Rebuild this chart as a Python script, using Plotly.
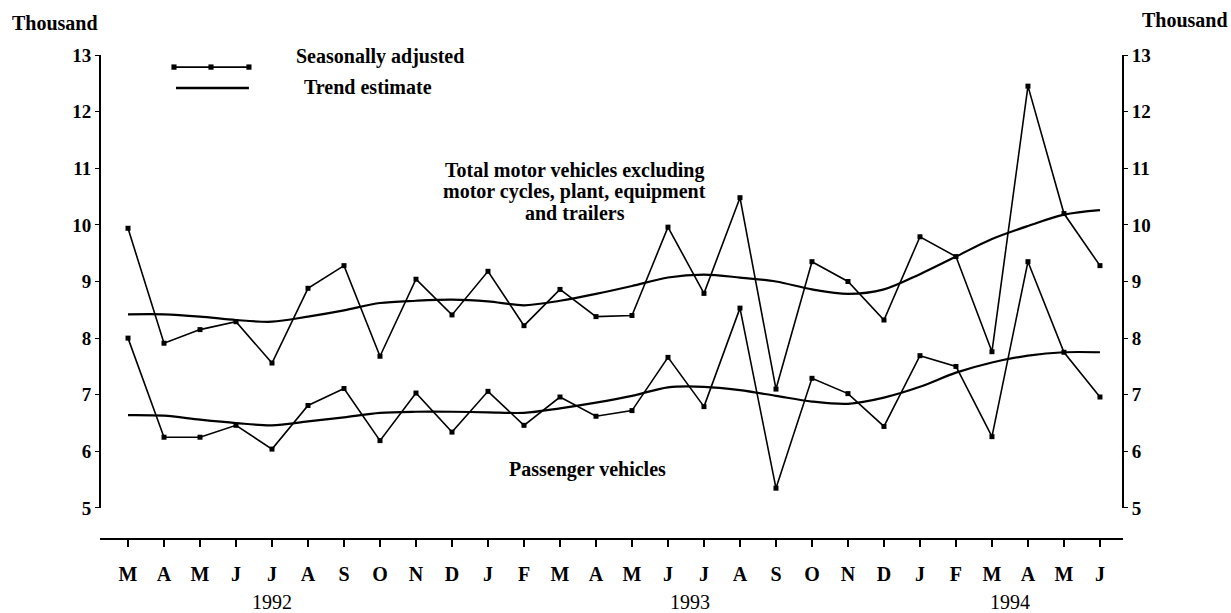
import plotly.graph_objects as go

# ---- data ----
months = ["M", "A", "M", "J", "J", "A", "S", "O", "N", "D",
          "J", "F", "M", "A", "M", "J", "J", "A", "S", "O", "N", "D",
          "J", "F", "M", "A", "M", "J"]
years = ["1992", "1993", "1994"]
year_pos = [4.0, 15.6, 24.5]

total_sa = [9.94, 7.91, 8.15, 8.29, 7.56, 8.88, 9.28, 7.68, 9.04, 8.41,
            9.18, 8.22, 8.86, 8.38, 8.40, 9.96, 8.79, 10.48, 7.10, 9.35, 9.00, 8.32,
            9.79, 9.44, 7.76, 12.45, 10.20, 9.28]
total_trend = [8.42, 8.42, 8.38, 8.32, 8.29, 8.38, 8.49, 8.62, 8.66, 8.68,
               8.65, 8.58, 8.66, 8.78, 8.92, 9.07, 9.12, 9.07, 9.00, 8.86, 8.78, 8.86,
               9.13, 9.44, 9.75, 9.98, 10.18, 10.26]
passenger_sa = [8.00, 6.25, 6.25, 6.46, 6.04, 6.81, 7.11, 6.19, 7.03, 6.34,
                7.06, 6.46, 6.96, 6.62, 6.72, 7.66, 6.79, 8.53, 5.35, 7.29, 7.02, 6.44,
                7.69, 7.50, 6.26, 9.35, 7.75, 6.96]
passenger_trend = [6.64, 6.63, 6.56, 6.50, 6.46, 6.53, 6.60, 6.68, 6.70, 6.70,
                   6.69, 6.68, 6.76, 6.86, 6.98, 7.13, 7.14, 7.08, 6.98, 6.88, 6.84, 6.95,
                   7.14, 7.39, 7.57, 7.69, 7.75, 7.75]
y_ticks = [5, 6, 7, 8, 9, 10, 11, 12, 13]

x = list(range(len(months)))
FONT = "Liberation Serif"
fb = dict(family=FONT, size=20, color="black", weight="bold")

fig = go.Figure()
for sa in (total_sa, passenger_sa):
    fig.add_trace(go.Scatter(x=x, y=sa, mode="lines+markers",
                             line=dict(color="black", width=1.6),
                             marker=dict(symbol="square", size=5, color="black"),
                             showlegend=False, hoverinfo="skip"))
for tr in (total_trend, passenger_trend):
    fig.add_trace(go.Scatter(x=x, y=tr, mode="lines",
                             line=dict(color="black", width=2.2, shape="spline", smoothing=0.9),
                             showlegend=False, hoverinfo="skip"))
# invisible trace to activate the right-hand axis
fig.add_trace(go.Scatter(x=[x[0]], y=[total_sa[0]], yaxis="y2", mode="markers",
                         marker=dict(opacity=0), showlegend=False, hoverinfo="skip"))

yr = [4.47, 13.0]
fig.update_layout(
    width=1231, height=613,
    margin=dict(l=100, r=108, t=55, b=75),
    plot_bgcolor="white", paper_bgcolor="white",
    xaxis=dict(range=[-0.778, 27.64], tickvals=x, ticktext=months,
               showgrid=False, zeroline=False, showline=True, linecolor="black",
               linewidth=2, ticks="outside", ticklen=7, tickwidth=1.5, tickcolor="black",
               tickfont=fb, ticklabelstandoff=10),
    yaxis=dict(range=yr, tickvals=y_ticks, showgrid=False, zeroline=False,
               showline=False, ticks="outside", ticklen=4, tickcolor="black",
               tickfont=dict(family=FONT, size=19, color="black", weight="bold"),
               ticklabelstandoff=0),
    yaxis2=dict(range=yr, tickvals=y_ticks, overlaying="y", side="right",
                showgrid=False, zeroline=False, showline=False, ticks="outside",
                ticklen=4, tickcolor="black",
                tickfont=dict(family=FONT, size=19, color="black", weight="bold"),
                ticklabelstandoff=0),
)

shapes = []
# vertical axis lines only from 5 to 13
for px in (0, 1):
    shapes.append(dict(type="line", xref="paper", yref="y", x0=px, x1=px,
                       y0=y_ticks[0], y1=y_ticks[-1], line=dict(color="black", width=2)))
# legend samples
shapes.append(dict(type="line", xref="paper", yref="paper", x0=0.0723, x1=0.1456,
                   y0=0.975, y1=0.975, line=dict(color="black", width=1.6)))
for mx in (0.0723, 0.1085, 0.1456):
    shapes.append(dict(type="rect", xref="paper", yref="paper",
                       x0=mx - 0.0025, x1=mx + 0.0025, y0=0.975 - 0.0055, y1=0.975 + 0.0055,
                       fillcolor="black", line=dict(width=0)))
shapes.append(dict(type="line", xref="paper", yref="paper", x0=0.0743, x1=0.1456,
                   y0=0.9317, y1=0.9317, line=dict(color="black", width=2.5)))
fig.update_layout(shapes=shapes)

ann = []
ann.append(dict(text="Thousand", xref="paper", yref="paper", x=-0.088, y=1.066,
                xanchor="left", yanchor="middle", showarrow=False, font=fb))
ann.append(dict(text="Thousand", xref="paper", yref="paper", x=1.0166, y=1.072,
                xanchor="left", yanchor="middle", showarrow=False, font=fb))
ann.append(dict(text="Seasonally adjusted", xref="paper", yref="paper", x=0.1896, y=0.9979,
                xanchor="left", yanchor="middle", showarrow=False, font=fb))
ann.append(dict(text="Trend estimate", xref="paper", yref="paper", x=0.1975, y=0.9337,
                xanchor="left", yanchor="middle", showarrow=False, font=fb))
total_label = ["Total motor vehicles excluding", "motor cycles, plant, equipment", "and trailers"]
for i, t in enumerate(total_label):
    ann.append(dict(text=t, xref="paper", yref="paper", x=0.4643, y=0.7619 - i * 0.0445,
                    xanchor="center", yanchor="middle", showarrow=False, font=fb))
ann.append(dict(text="Passenger vehicles", xref="paper", yref="paper", x=0.4761, y=0.1408,
                xanchor="center", yanchor="middle", showarrow=False, font=fb))
for yv, xp in zip(years, year_pos):
    ann.append(dict(text=yv, xref="x", yref="paper", x=xp, y=-0.1325,
                    xanchor="center", yanchor="middle", showarrow=False,
                    font=dict(family=FONT, size=20, color="black")))
fig.update_layout(annotations=ann)

fig.write_html("out.html", config={"displayModeBar": False},
               post_script="document.body.style.margin='0';document.body.style.overflow='hidden';")
